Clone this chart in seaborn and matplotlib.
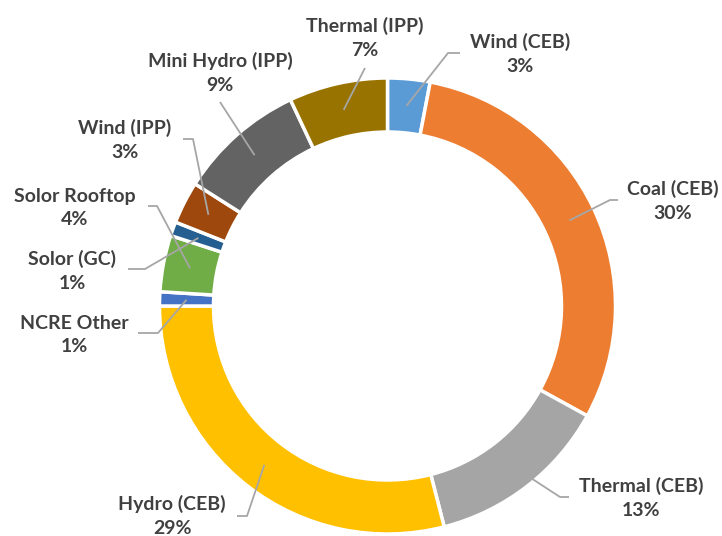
import numpy as np
import matplotlib.pyplot as plt
import seaborn as sns

# Generation mix (clockwise from 12 o'clock)
sources = ["Wind (CEB)", "Coal (CEB)", "Thermal (CEB)", "Hydro (CEB)", "NCRE Other",
           "Solor Rooftop", "Solor (GC)", "Wind (IPP)", "Mini Hydro (IPP)", "Thermal (IPP)"]
shares = [3, 30, 13, 29, 1, 4, 1, 3, 9, 7]
colors = ["#5B9BD5", "#ED7D31", "#A5A5A5", "#FFC000", "#4472C4",
          "#70AD47", "#255E91", "#9E480E", "#636363", "#997300"]

# label block centres and leader elbows (pixel coords, top-left origin), tail direction
label_pos = [(520, 54), (673, 201), (641, 498), (172, 516), (74, 335),
             (75, 208), (72, 271), (125, 140), (220, 73), (365, 38)]
elbows = [(448, 53), (610, 200), (560, 497), (247, 516), (158, 333),
          (157, 206), (145, 269), (193, 139), (220, 102), (365, 68)]
tails = [12, 8, 9, -10, -20, -9, -17, -10, 0, 0]

W, H = 722, 536
cx, cy = 387.5, H - 306
r_out, ring = 228, 54

sns.set_theme(style="white")
plt.rcParams["font.family"] = ["Lato", "DejaVu Sans"]

fig = plt.figure(figsize=(W / 100, H / 100), dpi=100)
ax = fig.add_axes([0, 0, 1, 1])

wedges, _ = ax.pie(shares, colors=colors, startangle=90, counterclock=False,
                   radius=r_out, center=(cx, cy),
                   wedgeprops=dict(width=ring, edgecolor="white", linewidth=2.5))

ax.set_xlim(0, W)
ax.set_ylim(0, H)
ax.set_aspect("equal")
ax.axis("off")

r_mid = r_out - ring / 2
for w, name, val, (lx, ly), (ex, ey), t in zip(wedges, sources, shares, label_pos, elbows, tails):
    ang = np.deg2rad((w.theta1 + w.theta2) / 2)
    ax_, ay_ = cx + r_mid * np.cos(ang), cy + r_mid * np.sin(ang)
    xs = [ax_, ex, ex + t]
    ys = [ay_, H - ey, H - ey]
    ax.plot(xs, ys, color="#A6A6A6", lw=1.3, solid_capstyle="butt", zorder=3)
    ax.text(lx, H - ly, f"{name}\n{val}%", ha="center", va="center",
            fontsize=14, fontweight="bold", color="#404040", linespacing=1.45)

fig.savefig("out.png", dpi=100)
